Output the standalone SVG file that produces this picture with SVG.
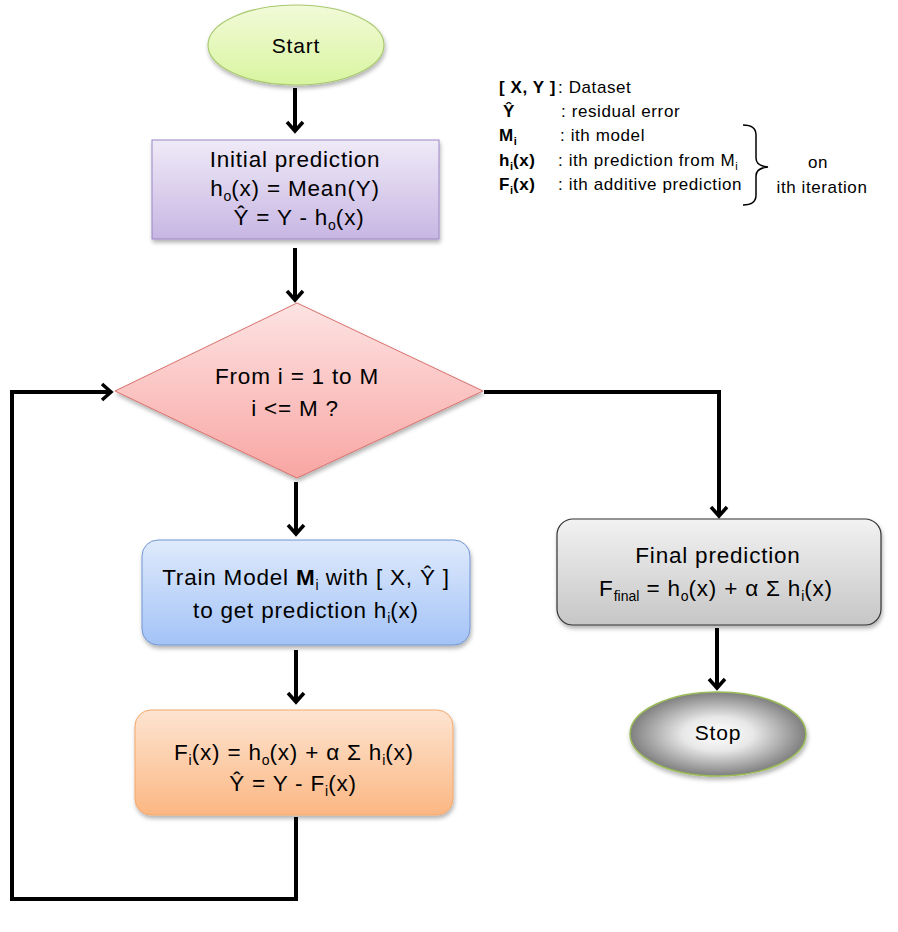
<svg xmlns="http://www.w3.org/2000/svg" width="898" height="932" viewBox="0 0 898 932">
<style>
text{font-family:"Liberation Sans",Arial,sans-serif;fill:#000}
.m{font-size:22.5px;letter-spacing:0.8px;text-anchor:middle}
.lg{font-size:17px;letter-spacing:0.6px}
.b{font-weight:bold}
.s{font-size:14px;letter-spacing:0}
.ls{font-size:11px;letter-spacing:0}
.conn{fill:none;stroke:#000;stroke-width:4;stroke-linejoin:miter}
</style>
<defs>
<linearGradient id="gStart" x1="0" y1="0" x2="0" y2="1"><stop offset="0" stop-color="#f2fad8"/><stop offset="1" stop-color="#d8f5a0"/></linearGradient>
<linearGradient id="gInit" x1="0" y1="0" x2="0" y2="1"><stop offset="0" stop-color="#efeaf7"/><stop offset="1" stop-color="#c7b6e3"/></linearGradient>
<linearGradient id="gDia" x1="0" y1="0" x2="0" y2="1"><stop offset="0" stop-color="#fde3e3"/><stop offset="1" stop-color="#f8a6a3"/></linearGradient>
<linearGradient id="gTrain" x1="0" y1="0" x2="0" y2="1"><stop offset="0" stop-color="#dfeafc"/><stop offset="1" stop-color="#a3c3f6"/></linearGradient>
<linearGradient id="gOr" x1="0" y1="0" x2="0" y2="1"><stop offset="0" stop-color="#fde4d1"/><stop offset="1" stop-color="#fbb783"/></linearGradient>
<linearGradient id="gFin" x1="0" y1="0" x2="0" y2="1"><stop offset="0" stop-color="#f2f2f2"/><stop offset="1" stop-color="#c6c6c6"/></linearGradient>
<radialGradient id="gStop" cx="0.5" cy="0.5" r="0.5"><stop offset="0" stop-color="#ffffff"/><stop offset="0.4" stop-color="#e8e8e8"/><stop offset="1" stop-color="#7f7f7f"/></radialGradient>
<filter id="sh" x="-10%" y="-10%" width="125%" height="135%"><feDropShadow dx="1" dy="3" stdDeviation="2" flood-color="#000" flood-opacity="0.3"/></filter>
<marker id="arr" markerUnits="userSpaceOnUse" markerWidth="26" markerHeight="26" viewBox="-13 -13 26 26" refX="0" refY="0" orient="auto">
<path d="M-9,-8 L0,0 L-9,8" fill="none" stroke="#000" stroke-width="3.5"/>
</marker>
</defs>

<g id="connectors">
<path class="conn" d="M295,88 V131" marker-end="url(#arr)"/>
<path class="conn" d="M295,248 V300" marker-end="url(#arr)"/>
<path class="conn" d="M296,482 V534" marker-end="url(#arr)"/>
<path class="conn" d="M296,650 V702" marker-end="url(#arr)"/>
<path class="conn" d="M296,817 V899 H12 V392 H111" marker-end="url(#arr)"/>
<path class="conn" d="M484,392 H719 V516" marker-end="url(#arr)"/>
<path class="conn" d="M717,628 V688" marker-end="url(#arr)"/>
</g>

<g id="start">
<ellipse cx="296" cy="45" rx="88" ry="40" fill="url(#gStart)" stroke="#a9c96f" stroke-width="1.2" filter="url(#sh)"/>
<text class="m" x="296" y="53" style="font-size:21px">Start</text>
</g>

<g id="initial">
<rect x="152" y="140" width="287" height="99" fill="url(#gInit)" stroke="#9c86c6" stroke-width="1" filter="url(#sh)"/>
<text class="m" x="295" y="167">Initial prediction</text>
<text class="m" x="295" y="196">h<tspan class="s" dy="5">o</tspan><tspan dy="-5">(x) = Mean(Y)</tspan></text>
<text class="m" x="299" y="225">Ŷ = Y - h<tspan class="s" dy="5">o</tspan><tspan dy="-5">(x)</tspan></text>
</g>

<g id="decision">
<polygon points="297,303 483,391 297,478 115,391" fill="url(#gDia)" stroke="#d9716d" stroke-width="1" filter="url(#sh)"/>
<text class="m" x="297" y="384">From i = 1 to M</text>
<text class="m" x="295" y="416">i &lt;= M ?</text>
</g>

<g id="train">
<rect x="142" y="540" width="328" height="105" rx="16" fill="url(#gTrain)" stroke="#7196d0" stroke-width="1" filter="url(#sh)"/>
<text class="m" x="306" y="585">Train Model <tspan class="b">M</tspan><tspan class="s" dy="5">i</tspan><tspan dy="-5"> with [ X, Ŷ ]</tspan></text>
<text class="m" x="306" y="618">to get prediction h<tspan class="s" dy="5">i</tspan><tspan dy="-5">(x)</tspan></text>
</g>

<g id="additive">
<rect x="135" y="710" width="318" height="105" rx="16" fill="url(#gOr)" stroke="#f5a868" stroke-width="1" filter="url(#sh)"/>
<text class="m" x="294" y="760">F<tspan class="s" dy="5">i</tspan><tspan dy="-5">(x) = h</tspan><tspan class="s" dy="5">o</tspan><tspan dy="-5">(x) + α Σ h</tspan><tspan class="s" dy="5">i</tspan><tspan dy="-5">(x)</tspan></text>
<text class="m" x="293" y="791">Ŷ = Y - F<tspan class="s" dy="5">i</tspan><tspan dy="-5">(x)</tspan></text>
</g>

<g id="final">
<rect x="557" y="519" width="324" height="106" rx="16" fill="url(#gFin)" stroke="#333" stroke-width="1.2" filter="url(#sh)"/>
<text class="m" x="718" y="563">Final prediction</text>
<text class="m" x="716" y="596">F<tspan class="s" dy="5">final</tspan><tspan dy="-5"> = h</tspan><tspan class="s" dy="5">o</tspan><tspan dy="-5">(x) + α Σ h</tspan><tspan class="s" dy="5">i</tspan><tspan dy="-5">(x)</tspan></text>
</g>

<g id="stop">
<ellipse cx="718" cy="734" rx="88" ry="42" fill="url(#gStop)" stroke="#9bbb59" stroke-width="1.5" filter="url(#sh)"/>
<text class="m" x="718" y="740" style="font-size:21px">Stop</text>
</g>

<g id="legend">
<text class="lg b" x="499" y="93">[ X, Y ]</text>
<text class="lg" x="558" y="93">: Dataset</text>
<text class="lg b" x="503" y="117">Ŷ</text>
<text class="lg" x="561" y="117">: residual error</text>
<text class="lg b" x="499" y="141">M<tspan class="ls" dy="4">i</tspan></text>
<text class="lg" x="560" y="141">: ith model</text>
<text class="lg b" x="499" y="166">h<tspan class="ls" dy="4">i</tspan><tspan dy="-4">(x)</tspan></text>
<text class="lg" x="558" y="166">: ith prediction from M<tspan class="ls" dy="4">i</tspan></text>
<text class="lg b" x="499" y="190">F<tspan class="ls" dy="4">i</tspan><tspan dy="-4">(x)</tspan></text>
<text class="lg" x="558" y="190">: ith additive prediction</text>
<path d="M743,125 Q756,125 756,135 V158 Q756,166 768,167 Q756,168 756,176 V195 Q756,205 743,205" fill="none" stroke="#000" stroke-width="1.5"/>
<text class="lg" x="818" y="168" text-anchor="middle">on</text>
<text class="lg" x="822" y="193" text-anchor="middle">ith iteration</text>
</g>
</svg>
